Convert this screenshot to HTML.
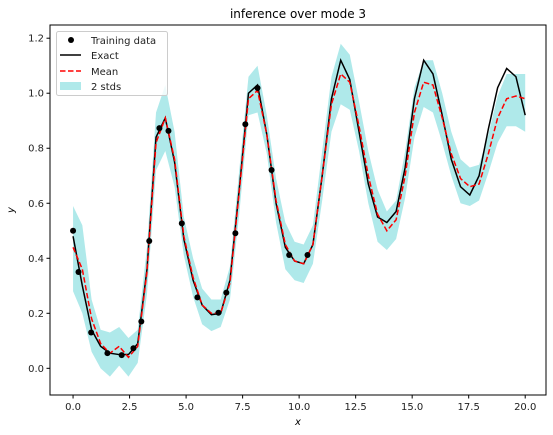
<!DOCTYPE html>
<html><head><meta charset="utf-8"><style>
html,body{margin:0;padding:0;background:#fff;}
svg{display:block;font-family:"DejaVu Sans","Liberation Sans",sans-serif;}
</style></head><body>
<svg id="chart" width="553" height="435"></svg>
<script>
const xs = [0,0.41,0.82,1.22,1.63,2.04,2.45,2.86,3.27,3.67,4.08,4.49,4.90,5.31,5.71,6.12,6.53,6.94,7.35,7.76,8.16,8.57,8.98,9.39,9.80,10.20,10.61,11.02,11.43,11.84,12.24,12.65,13.06,13.47,13.88,14.29,14.69,15.10,15.51,15.92,16.33,16.73,17.14,17.55,17.96,18.37,18.78,19.18,19.59,20.0];
const exactY = [0.48,0.30,0.14,0.08,0.055,0.05,0.05,0.09,0.36,0.84,0.91,0.75,0.47,0.32,0.23,0.195,0.20,0.32,0.65,1.00,1.03,0.85,0.60,0.44,0.39,0.38,0.45,0.70,0.98,1.12,1.05,0.86,0.67,0.55,0.53,0.57,0.73,0.98,1.12,1.07,0.92,0.76,0.66,0.63,0.70,0.87,1.02,1.09,1.06,0.92];
const meanY = [0.44,0.36,0.18,0.09,0.055,0.08,0.04,0.08,0.35,0.82,0.91,0.76,0.48,0.33,0.23,0.20,0.20,0.31,0.64,0.98,1.01,0.85,0.61,0.45,0.39,0.38,0.45,0.70,0.96,1.07,1.04,0.88,0.70,0.56,0.50,0.54,0.70,0.93,1.04,1.03,0.91,0.78,0.69,0.66,0.67,0.78,0.91,0.98,0.99,0.98];
const lowerY = [0.28,0.20,0.06,0.00,-0.03,0.01,-0.03,0.02,0.27,0.72,0.79,0.66,0.41,0.26,0.16,0.135,0.15,0.25,0.56,0.92,0.93,0.78,0.53,0.36,0.32,0.31,0.38,0.61,0.86,0.96,0.94,0.79,0.60,0.46,0.43,0.47,0.62,0.84,0.95,0.93,0.82,0.70,0.60,0.59,0.61,0.71,0.82,0.88,0.88,0.86];
const upperY = [0.59,0.52,0.25,0.14,0.13,0.15,0.11,0.14,0.44,0.93,1.03,0.86,0.55,0.40,0.29,0.25,0.25,0.37,0.72,1.06,1.10,0.92,0.69,0.53,0.46,0.45,0.52,0.79,1.06,1.18,1.14,0.97,0.79,0.65,0.57,0.61,0.79,1.02,1.12,1.12,1.00,0.86,0.76,0.73,0.74,0.85,0.99,1.07,1.07,1.07];
const trainX = [0,0.24,0.8,1.52,2.15,2.67,3.02,3.37,3.82,4.22,4.81,5.5,6.43,6.78,7.18,7.62,8.16,8.78,9.56,10.37];
const trainY = [0.50,0.35,0.13,0.055,0.048,0.073,0.17,0.463,0.873,0.863,0.527,0.258,0.202,0.275,0.491,0.887,1.019,0.721,0.412,0.412];
const xTicks = [0,2.5,5,7.5,10,12.5,15,17.5,20];
const xTickLabels = ["0.0","2.5","5.0","7.5","10.0","12.5","15.0","17.5","20.0"];
const yTicks = [0,0.2,0.4,0.6,0.8,1.0,1.2];
const yTickLabels = ["0.0","0.2","0.4","0.6","0.8","1.0","1.2"];

const L=50,R=546,T=25,B=395;
const xMin=-1.02,xMax=20.92,yMin=-0.097,yMax=1.248;
const sx=v=>L+(v-xMin)/(xMax-xMin)*(R-L);
const sy=v=>B-(v-yMin)/(yMax-yMin)*(B-T);
const NS="http://www.w3.org/2000/svg";
const svg=document.getElementById('chart');
function mk(tag,attrs,parent){const e=document.createElementNS(NS,tag);for(const k in attrs)e.setAttribute(k,attrs[k]);(parent||svg).appendChild(e);return e;}

let d='M'+xs.map((x,i)=>sx(x)+','+sy(upperY[i])).join('L');
for(let i=xs.length-1;i>=0;i--) d+='L'+sx(xs[i])+','+sy(lowerY[i]);
const band=mk('path',{d:d+'Z',fill:'#afe9ea',stroke:'none'});



const ex=mk('polyline',{points:xs.map((x,i)=>sx(x)+','+sy(exactY[i])).join(' '),fill:'none',stroke:'#000','stroke-width':1.5});


const mn=mk('polyline',{points:xs.map((x,i)=>sx(x)+','+sy(meanY[i])).join(' '),fill:'none',stroke:'#ff0000','stroke-width':1.5,'stroke-dasharray':'5.5,2.5'});



trainX.forEach((x,i)=>{
  const c=mk('circle',{cx:sx(x),cy:sy(trainY[i]),r:3,fill:'#000'});
  
  
});

const frame=mk('rect',{x:L,y:T,width:R-L,height:B-T,fill:'none',stroke:'#000','stroke-width':1});



xTicks.forEach((v,i)=>{
  mk('line',{x1:sx(v),x2:sx(v),y1:B,y2:B+3.5,stroke:'#000'});
  const t=mk('text',{x:sx(v),y:B+15,'font-size':10,'text-anchor':'middle',fill:'#222'});
  t.textContent=xTickLabels[i];
  
  
});
yTicks.forEach((v,i)=>{
  mk('line',{x1:L-3.5,x2:L,y1:sy(v),y2:sy(v),stroke:'#000'});
  const t=mk('text',{x:L-6,y:sy(v)+3.5,'font-size':10,'text-anchor':'end',fill:'#222'});
  t.textContent=yTickLabels[i];
  
  
});
</script>
<script>
(function(){
const svg=document.getElementById('chart');
const NS="http://www.w3.org/2000/svg";
function mk(tag,attrs,parent){const e=document.createElementNS(NS,tag);for(const k in attrs)e.setAttribute(k,attrs[k]);(parent||svg).appendChild(e);return e;}
const title=mk('text',{x:298,y:18,'font-size':12,'text-anchor':'middle',fill:'#000'});
title.textContent='inference over mode 3';


const xl=mk('text',{x:298,y:425,'font-size':10,'text-anchor':'middle','font-style':'italic'});
xl.textContent='x';


const yl=mk('text',{x:14,y:210,'font-size':10,'text-anchor':'middle','font-style':'italic',transform:'rotate(-90 14 210)'});
yl.textContent='y';



const lg=mk('g',{});


mk('rect',{x:56.5,y:31.5,width:111,height:64,rx:2,fill:'#fff','fill-opacity':0.8,stroke:'#ccc'},lg);
mk('circle',{cx:71,cy:40,r:3,fill:'#000'},lg);
mk('line',{x1:60,x2:81,y1:55,y2:55,stroke:'#000','stroke-width':1.5},lg);
mk('line',{x1:60,x2:81,y1:71,y2:71,stroke:'#f00','stroke-width':1.5,'stroke-dasharray':'5.5,2.5'},lg);
mk('rect',{x:60,y:82,width:21,height:8,fill:'#afe9ea'},lg);
[['Training data',44],['Exact',59],['Mean',75],['2 stds',90]].forEach(([s,y])=>{
  const t=mk('text',{x:91,y:y,'font-size':10,fill:'#222'},lg);
  t.textContent=s;
  
  
});
})();
</script>
</body></html>
